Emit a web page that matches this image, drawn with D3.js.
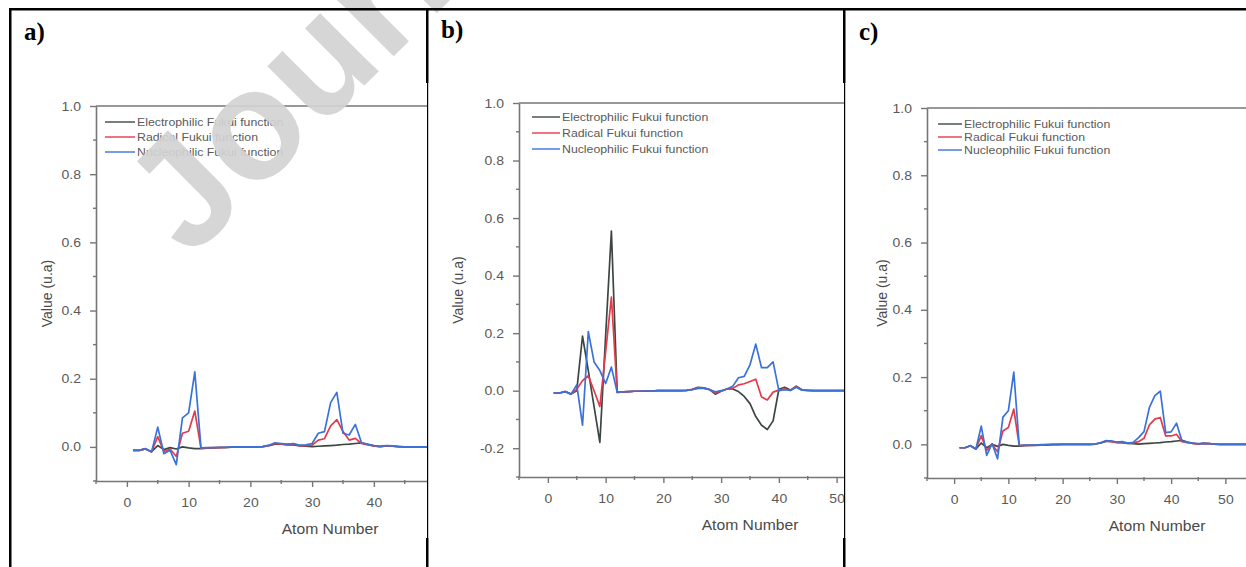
<!DOCTYPE html>
<html>
<head>
<meta charset="utf-8">
<script src="https://cdn.jsdelivr.net/npm/d3@7"></script>
<style>
body { margin: 0; background: #fff; }
svg { display: block; }
text { font-family: "Liberation Sans", Arial, sans-serif; }
</style>
</head>
<body>
<svg id="fig" width="1246" height="567"></svg>
<script>
var seriesNames = ["Electrophilic Fukui function", "Radical Fukui function", "Nucleophilic Fukui function"];
var seriesColors = ["#3d4742", "#e23c4c", "#3a72d8"];
var xTitle = "Atom Number";
var yTitle = "Value (u.a)";
var panelLetters = ["a)", "b)", "c)"];

var xTicks = [0, 10, 20, 30, 40, 50, 60, 70];
var xMinor = [-5, 5, 15, 25, 35, 45, 55, 65, 75];
var yTicksAC = [0.0, 0.2, 0.4, 0.6, 0.8, 1.0];
var yMinorAC = [-0.1, 0.1, 0.3, 0.5, 0.7, 0.9];
var yTicksB = [-0.2, 0.0, 0.2, 0.4, 0.6, 0.8, 1.0];
var yMinorB = [-0.3, -0.1, 0.1, 0.3, 0.5, 0.7, 0.9];

// values per atom, atom 1 first
var aElec = [-0.010, -0.010, -0.006, -0.014, 0.004, -0.008, -0.002, -0.006, 0.000, -0.003,
             -0.005, -0.005, -0.004, -0.003, -0.002, -0.002, -0.001, -0.001, 0.000, 0.000,
             0.000, 0.001, 0.004, 0.008, 0.008, 0.006, 0.006, 0.003, 0.002, 0.001,
             0.002, 0.003, 0.004, 0.005, 0.007, 0.008, 0.010, 0.012, 0.007, 0.003,
             0.001, 0.003, 0.002, 0.001, 0.000, 0.000, 0.000, 0.000, 0.000, 0.000,
             0.000, 0.000, 0.000, 0.000, 0.000, 0.000];
var aRad = [-0.010, -0.010, -0.006, -0.014, 0.030, -0.014, -0.006, -0.028, 0.040, 0.046,
            0.105, -0.004, -0.003, -0.002, -0.002, -0.001, -0.001, 0.000, 0.000, 0.000,
            0.000, 0.001, 0.004, 0.010, 0.008, 0.007, 0.008, 0.004, 0.004, 0.005,
            0.020, 0.024, 0.062, 0.080, 0.045, 0.020, 0.025, 0.010, 0.006, 0.003,
            0.001, 0.003, 0.002, 0.001, 0.000, 0.000, 0.000, 0.000, 0.000, 0.000,
            0.000, 0.000, 0.000, 0.000, 0.000, 0.000];
var aNuc = [-0.010, -0.010, -0.005, -0.015, 0.058, -0.020, -0.010, -0.052, 0.085, 0.100,
            0.220, -0.003, -0.002, -0.002, -0.001, -0.001, 0.000, 0.000, 0.000, 0.000,
            0.000, 0.001, 0.005, 0.012, 0.010, 0.008, 0.010, 0.005, 0.006, 0.010,
            0.040, 0.045, 0.130, 0.160, 0.040, 0.035, 0.066, 0.012, 0.008, 0.004,
            0.002, 0.004, 0.003, 0.001, 0.000, 0.000, 0.000, 0.000, 0.000, 0.000,
            0.000, 0.000, 0.000, 0.000, 0.000, 0.000];

var bElec = [-0.008, -0.008, -0.003, -0.012, 0.000, 0.190, 0.070, -0.055, -0.180, 0.190,
             0.555, -0.006, -0.004, -0.003, -0.002, -0.002, -0.001, -0.001, 0.000, 0.000,
             0.000, 0.000, 0.000, 0.001, 0.005, 0.012, 0.010, 0.004, -0.012, -0.002,
             0.006, 0.006, -0.003, -0.020, -0.045, -0.090, -0.120, -0.135, -0.105, 0.005,
             0.012, 0.002, 0.016, 0.003, 0.001, 0.000, 0.000, 0.000, 0.000, 0.000,
             0.000, 0.000, 0.000, 0.000, 0.000, 0.000];
var bRad = [-0.008, -0.008, -0.003, -0.012, 0.005, 0.035, 0.052, 0.000, -0.055, 0.135,
            0.325, -0.006, -0.004, -0.003, -0.002, -0.002, -0.001, -0.001, 0.000, 0.000,
            0.000, 0.000, 0.000, 0.001, 0.004, 0.010, 0.009, 0.004, -0.008, -0.001,
            0.006, 0.008, 0.020, 0.024, 0.032, 0.040, -0.022, -0.032, -0.005, 0.002,
            0.006, 0.001, 0.014, 0.002, 0.001, 0.000, 0.000, 0.000, 0.000, 0.000,
            0.000, 0.000, 0.000, 0.000, 0.000, 0.000];
var bNuc = [-0.008, -0.008, -0.003, -0.012, 0.020, -0.120, 0.205, 0.100, 0.070, 0.025,
            0.082, -0.005, -0.004, -0.003, -0.002, -0.002, -0.001, -0.001, 0.000, 0.000,
            0.000, 0.000, 0.000, 0.001, 0.004, 0.008, 0.008, 0.004, -0.004, 0.000,
            0.006, 0.015, 0.045, 0.050, 0.090, 0.162, 0.080, 0.080, 0.100, 0.000,
            0.004, 0.001, 0.012, 0.002, 0.001, 0.000, 0.000, 0.000, 0.000, 0.000,
            0.000, 0.000, 0.000, 0.000, 0.000, 0.000];

var cElec = [-0.010, -0.010, -0.004, -0.014, 0.004, -0.010, 0.000, -0.006, 0.000, -0.003,
             -0.005, -0.005, -0.004, -0.003, -0.003, -0.002, -0.002, -0.001, -0.001, 0.000,
             0.000, 0.000, 0.000, 0.000, 0.000, 0.001, 0.004, 0.009, 0.009, 0.006,
             0.006, 0.003, 0.002, 0.001, 0.002, 0.003, 0.004, 0.005, 0.007, 0.008,
             0.010, 0.012, 0.007, 0.003, 0.001, 0.003, 0.002, 0.001, 0.000, 0.000,
             0.000, 0.000, 0.000, 0.000, 0.000, 0.000, 0.000, 0.000, 0.000, 0.000];
var cRad = [-0.010, -0.010, -0.004, -0.014, 0.026, -0.018, 0.000, -0.022, 0.040, 0.050,
            0.105, -0.004, -0.003, -0.003, -0.002, -0.002, -0.001, -0.001, 0.000, 0.000,
            0.000, 0.000, 0.000, 0.000, 0.000, 0.001, 0.004, 0.010, 0.008, 0.005,
            0.004, 0.003, 0.004, 0.008, 0.018, 0.058, 0.075, 0.080, 0.025, 0.025,
            0.030, 0.008, 0.005, 0.003, 0.001, 0.003, 0.002, 0.001, 0.000, 0.000,
            0.000, 0.000, 0.000, 0.000, 0.000, 0.000, 0.000, 0.000, 0.000, 0.000];
var cNuc = [-0.010, -0.010, -0.004, -0.014, 0.054, -0.033, 0.002, -0.043, 0.081, 0.100,
            0.215, -0.003, -0.002, -0.002, -0.002, -0.001, -0.001, 0.000, 0.000, 0.000,
            0.000, 0.000, 0.000, 0.000, 0.000, 0.001, 0.005, 0.011, 0.010, 0.007,
            0.008, 0.004, 0.006, 0.020, 0.038, 0.110, 0.145, 0.158, 0.035, 0.037,
            0.063, 0.010, 0.006, 0.004, 0.002, 0.003, 0.002, 0.001, 0.000, 0.000,
            0.000, 0.000, 0.000, 0.000, 0.000, 0.000, 0.000, 0.000, 0.000, 0.000];

// layout of the three cells (pixels)
var panels = [
    {id: "clipA", series: [aElec, aRad, aNuc], yDomain: [-0.1, 1.0], yTicks: yTicksAC, yMinor: yMinorAC,
     clipL: 11, clipR: 428, x0: 96, x1: 590, yTop: 106, yBot: 481,
     letterX: 24, letterY: 40, legX: 105, legY: 122, legLen: 30, legStep: 15,
     xTitleX: 330, xTitleY: 534, yTitleX: 47},
    {id: "clipB", series: [bElec, bRad, bNuc], yDomain: [-0.3, 1.0], yTicks: yTicksB, yMinor: yMinorB,
     clipL: 429, clipR: 845, x0: 519, x1: 981, yTop: 103, yBot: 477,
     letterX: 441, letterY: 38, legX: 532, legY: 117, legLen: 28, legStep: 16,
     xTitleX: 750, xTitleY: 530, yTitleX: 458},
    {id: "clipC", series: [cElec, cRad, cNuc], yDomain: [-0.1, 1.0], yTicks: yTicksAC, yMinor: yMinorAC,
     clipL: 847, clipR: 1246, x0: 927, x1: 1361, yTop: 108, yBot: 478,
     letterX: 859, letterY: 40, legX: 938, legY: 124, legLen: 24, legStep: 13,
     xTitleX: 1157, xTitleY: 531, yTitleX: 882}
];

var axisColor = "#767676";
var labelColor = "#5a5a5a";
var stretch = 1.12;   // the source figure is a little wider than tall

var svg = d3.select("#fig");
var defs = svg.append("defs");

var wideText = function(sel, x, y) {
    sel.attr("transform", "translate(" + x + "," + y + ") scale(" + stretch + ",1)");
};

var drawPanel = function(p, idx) {
    defs.append("clipPath").attr("id", p.id).
        append("rect").
        attr("x", p.clipL).attr("y", 0).
        attr("width", p.clipR - p.clipL).attr("height", 567);

    var g = svg.append("g").attr("clip-path", "url(#" + p.id + ")");

    var x = d3.scaleLinear().domain([-5, 75]).range([p.x0, p.x1]);
    var y = d3.scaleLinear().domain(p.yDomain).range([p.yBot, p.yTop]);

    // frame top line
    g.append("line").
        attr("x1", p.x0).attr("x2", p.x1).
        attr("y1", p.yTop).attr("y2", p.yTop).
        attr("stroke", axisColor).attr("stroke-width", 1.6);

    var yAxis = d3.axisLeft(y).
        tickValues(p.yTicks).
        tickSize(6).tickSizeOuter(0).tickPadding(9).
        tickFormat(function(v) { return v.toFixed(1); });
    var xAxis = d3.axisBottom(x).
        tickValues(xTicks).
        tickSize(6).tickSizeOuter(0).tickPadding(11).
        tickFormat(d3.format("d"));

    var ya = g.append("g").attr("transform", "translate(" + p.x0 + ",0)").call(yAxis);
    var xa = g.append("g").attr("transform", "translate(0," + p.yBot + ")").call(xAxis);
    [ya, xa].forEach(function(a) {
        a.select(".domain").attr("stroke", axisColor).attr("stroke-width", 1.6);
        a.selectAll(".tick line").attr("stroke", axisColor).attr("stroke-width", 1.4);
        a.selectAll(".tick text").
            attr("fill", labelColor).
            style("font-size", "12.5px").
            style("font-family", "'Liberation Sans', Arial, sans-serif");
    });
    ya.selectAll(".tick text").each(function() {
        var t = d3.select(this);
        var tx = +t.attr("x");
        t.attr("x", null);
        wideText(t, tx, 0);
    });
    xa.selectAll(".tick text").each(function() {
        var t = d3.select(this);
        var ty = +t.attr("y");
        t.attr("y", null);
        wideText(t, 0, ty);
    });

    // minor ticks
    g.selectAll("line.xminor").
        data(xMinor).
        enter().append("line").
        attr("class", "xminor").
        attr("x1", function(d) { return x(d); }).attr("x2", function(d) { return x(d); }).
        attr("y1", p.yBot - 1).attr("y2", p.yBot + 3).
        attr("stroke", axisColor).attr("stroke-width", 1.4);
    g.selectAll("line.yminor").
        data(p.yMinor).
        enter().append("line").
        attr("class", "yminor").
        attr("x1", p.x0 - 3).attr("x2", p.x0 + 1).
        attr("y1", function(d) { return y(d); }).attr("y2", function(d) { return y(d); }).
        attr("stroke", axisColor).attr("stroke-width", 1.4);

    // series
    var line = d3.line().
        x(function(d, i) { return x(i + 1); }).
        y(function(d) { return y(d); });
    p.series.forEach(function(s, k) {
        g.append("path").
            attr("d", line(s)).
            attr("fill", "none").
            attr("stroke", seriesColors[k]).
            attr("stroke-width", 1.7).
            attr("stroke-linejoin", "round");
    });

    // legend
    seriesNames.forEach(function(name, k) {
        var ly = p.legY + k * p.legStep;
        g.append("line").
            attr("x1", p.legX).attr("x2", p.legX + p.legLen).
            attr("y1", ly).attr("y2", ly).
            attr("stroke", seriesColors[k]).attr("stroke-width", 1.4);
        g.append("text").
            call(wideText, p.legX + p.legLen + 2, ly).
            attr("dy", "0.35em").
            attr("fill", labelColor).
            style("font-size", "11px").
            text(name);
    });

    // titles
    g.append("text").
        call(wideText, p.xTitleX, p.xTitleY).
        attr("text-anchor", "middle").
        attr("fill", "#4a4a4a").
        style("font-size", "14px").
        text(xTitle);
    g.append("text").
        attr("transform", "translate(" + p.yTitleX + "," + ((p.yTop + p.yBot) / 2) + ") rotate(-90)").
        attr("text-anchor", "middle").
        attr("dy", "0.35em").
        attr("fill", "#4a4a4a").
        style("font-size", "14px").
        text(yTitle);

    svg.append("text").
        attr("x", p.letterX).attr("y", p.letterY).
        style("font-family", "'Liberation Serif', 'Times New Roman', serif").
        style("font-weight", "bold").
        style("font-size", "25px").
        attr("fill", "#000").
        text(panelLetters[idx]);
};

panels.forEach(drawPanel);

// watermark
svg.append("text").
    attr("transform", "translate(190,260) rotate(-45)").
    style("font-size", "156px").
    style("font-weight", "bold").
    attr("fill", "#d3d3d3").
    attr("fill-opacity", 0.92).
    text("Journal Pre-proof");

// table borders
var border = svg.append("g").attr("fill", "#000");
border.append("rect").attr("x", 9).attr("y", 8).attr("width", 1237).attr("height", 2.5);
border.append("rect").attr("x", 9).attr("y", 8).attr("width", 2.5).attr("height", 559);
[427, 844].forEach(function(bx) {
    border.append("rect").attr("x", bx - 1).attr("y", 8).attr("width", 2.5).attr("height", 75);
    border.append("rect").attr("x", bx).attr("y", 83).attr("width", 1.2).attr("height", 455);
    border.append("rect").attr("x", bx - 1).attr("y", 538).attr("width", 2.5).attr("height", 29);
});
</script>
</body>
</html>
